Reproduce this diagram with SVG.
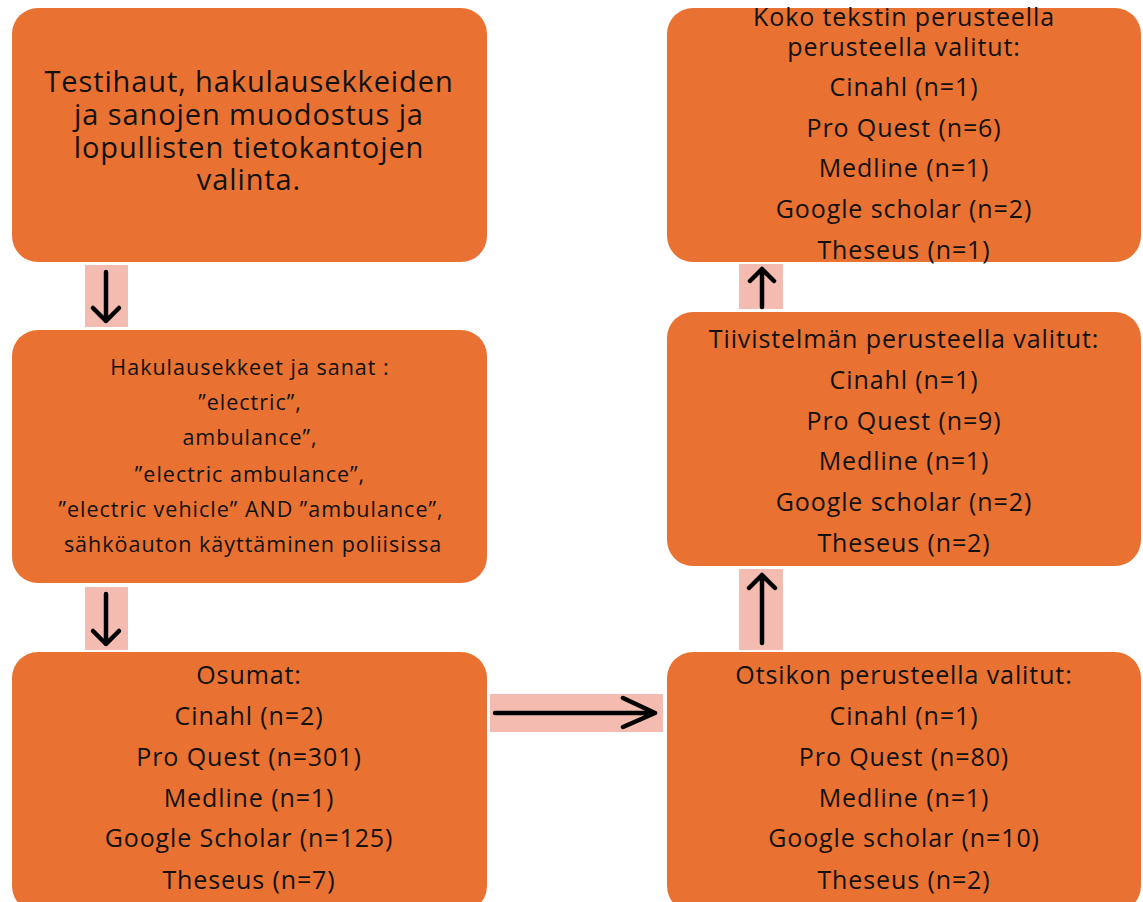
<svg xmlns="http://www.w3.org/2000/svg" width="1143" height="902" viewBox="0 0 1143 902">
<style>
.box{fill:#E97132;}
.ab{fill:#F4BCB0;}
.t{font-family:"Open Sans","Liberation Sans",sans-serif;fill:#111;text-anchor:middle;}
.l{font-size:25px;letter-spacing:0.9px;}
.m{font-size:21.5px;letter-spacing:1px;}
.b{font-size:29px;letter-spacing:0.9px;}
.ar{stroke:#000;stroke-width:4.5;fill:none;stroke-linecap:round;stroke-linejoin:round;}
</style>
<rect width="1143" height="902" fill="#fff"/>
<g id="connectors">
<rect class="ab" x="85" y="265" width="43" height="62"/>
<path class="ar" d="M106 272 V321 M93 308 L106 321 L119 308"/>
<rect class="ab" x="85" y="587" width="43" height="63"/>
<path class="ar" d="M106 594 V644 M93 631 L106 644 L119 631"/>
<rect class="ab" x="490" y="694" width="173" height="38"/>
<path class="ar" d="M495 713 H655 M623 698 L655 713 L623 727"/>
<rect class="ab" x="739" y="264" width="44" height="45"/>
<path class="ar" d="M762 307 V269 M750 281 L762 269 L774 281"/>
<rect class="ab" x="739" y="569" width="44" height="81"/>
<path class="ar" d="M762 643 V575 M749 588 L762 575 L775 588"/>
</g>
<g id="n1">
<rect class="box" x="12" y="8" width="475" height="254" rx="26"/>
<text class="t b" x="249" y="92">Testihaut, hakulausekkeiden</text>
<text class="t b" x="249" y="125">ja sanojen muodostus ja</text>
<text class="t b" x="249" y="158">lopullisten tietokantojen</text>
<text class="t b" x="249" y="190">valinta.</text>
</g>
<g id="n2">
<rect class="box" x="12" y="330" width="475" height="253" rx="26"/>
<text class="t m" x="250" y="375">Hakulausekkeet ja sanat :</text>
<text class="t m" x="250" y="410">”electric”,</text>
<text class="t m" x="250" y="445">ambulance”,</text>
<text class="t m" x="250" y="482">”electric ambulance”,</text>
<text class="t m" x="251" y="517">”electric vehicle” AND ”ambulance”,</text>
<text class="t m" x="253" y="552">sähköauton käyttäminen poliisissa</text>
</g>
<g id="n3">
<rect class="box" x="12" y="652" width="475" height="260" rx="26"/>
<text class="t l" x="249" y="684">Osumat:</text>
<text class="t l" x="249" y="725">Cinahl (n=2)</text>
<text class="t l" x="249" y="766">Pro Quest (n=301)</text>
<text class="t l" x="249" y="807">Medline (n=1)</text>
<text class="t l" x="249" y="847">Google Scholar (n=125)</text>
<text class="t l" x="249" y="889">Theseus (n=7)</text>
</g>
<g id="n4">
<rect class="box" x="667" y="652" width="474" height="260" rx="26"/>
<text class="t l" x="904" y="684">Otsikon perusteella valitut:</text>
<text class="t l" x="904" y="725">Cinahl (n=1)</text>
<text class="t l" x="904" y="766">Pro Quest (n=80)</text>
<text class="t l" x="904" y="807">Medline (n=1)</text>
<text class="t l" x="904" y="847">Google scholar (n=10)</text>
<text class="t l" x="904" y="889">Theseus (n=2)</text>
</g>
<g id="n5">
<rect class="box" x="667" y="312" width="474" height="254" rx="26"/>
<text class="t l" x="904" y="348">Tiivistelmän perusteella valitut:</text>
<text class="t l" x="904" y="389">Cinahl (n=1)</text>
<text class="t l" x="904" y="430">Pro Quest (n=9)</text>
<text class="t l" x="904" y="470">Medline (n=1)</text>
<text class="t l" x="904" y="511">Google scholar (n=2)</text>
<text class="t l" x="904" y="552">Theseus (n=2)</text>
</g>
<g id="n6">
<rect class="box" x="667" y="8" width="474" height="254" rx="26"/>
<text class="t l" x="904" y="26">Koko tekstin perusteella</text>
<text class="t l" x="904" y="56">perusteella valitut:</text>
<text class="t l" x="904" y="96">Cinahl (n=1)</text>
<text class="t l" x="904" y="137">Pro Quest (n=6)</text>
<text class="t l" x="904" y="177">Medline (n=1)</text>
<text class="t l" x="904" y="218">Google scholar (n=2)</text>
<text class="t l" x="904" y="259">Theseus (n=1)</text>
</g>
</svg>
